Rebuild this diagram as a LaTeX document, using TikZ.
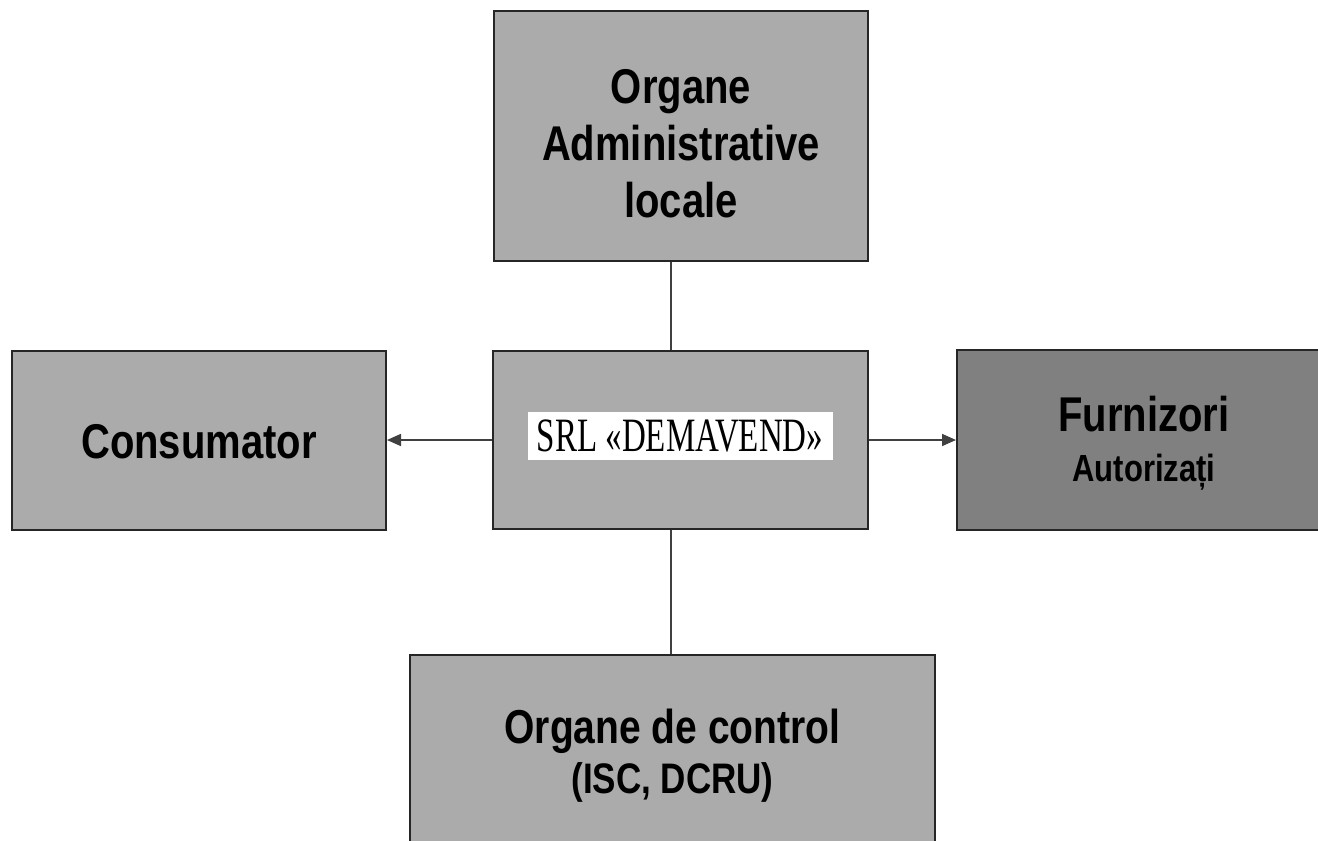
\documentclass[tikz,border=0pt]{standalone}
\usepackage{fontspec}
\setmainfont{Liberation Serif}
\setsansfont{Liberation Sans}
\usetikzlibrary{arrows.meta}
\newcommand{\vstr}[1]{\scalebox{1}[1.22]{#1}}
\newcommand{\vstrs}[1]{\scalebox{1}[1.45]{#1}}
\newcommand{\txtblock}[2]{\raisebox{#1}[\height][\depth]{\begin{tabular}{@{}c@{}}#2\end{tabular}}}
\begin{document}
\begin{tikzpicture}[x=1pt,y=-1pt,
  box/.style={draw=black!85, line width=2pt, fill=black!33, inner sep=0pt,
    font=\sffamily\bfseries\fontsize{40}{57}\selectfont, align=center},
  darkbox/.style={box, fill=black!50},
  link/.style={draw=black!75, line width=1.6pt},
  arr/.style={link, -{Triangle[length=14pt,width=12pt]}},
  lbl/.style={fill=white, inner sep=0pt, minimum width=305pt, minimum height=48pt,
    font=\rmfamily\fontsize{33}{40}\selectfont}]
\useasboundingbox (0,0) rectangle (1318,841);
\node[box, minimum width=374pt, minimum height=250pt] (adm) at (681,136)
  {\txtblock{-13pt}{\vstr{Organe}\\\vstr{Administrative}\\\vstr{locale}}};
\node[box, minimum width=374pt, minimum height=179pt] (cons) at (199,440)
  {\raisebox{-2pt}[\height][\depth]{\vstr{Consumator}}};
\node[box, minimum width=375pt, minimum height=178pt] (ctr) at (680.5,440) {};
\node[lbl] (srl) at (680,436) {\vstrs{SRL «DEMAVEND»}};
\node[darkbox, minimum width=374pt, minimum height=180pt] (furn) at (1144,440)
  {\fontsize{40}{50}\selectfont\txtblock{-6pt}{\vstr{Furnizori}\\{\fontsize{31}{40}\selectfont\vstr{Autorizați}}}};
\node[box, minimum width=525pt, minimum height=206pt] (ctl) at (672.5,758)
  {\fontsize{39}{50}\selectfont\txtblock{0pt}{\vstr{Organe de control}\\{\fontsize{35}{45}\selectfont\vstr{(ISC, DCRU)}}}};
\coordinate (vx) at (671,0);
\draw[link] (adm.south -| vx) -- (ctr.north -| vx);
\draw[link] (ctr.south -| vx) -- (ctl.north -| vx);
\draw[arr] (ctr.west) -- (cons.east);
\draw[arr] (ctr.east) -- (furn.west);
\end{tikzpicture}
\end{document}
